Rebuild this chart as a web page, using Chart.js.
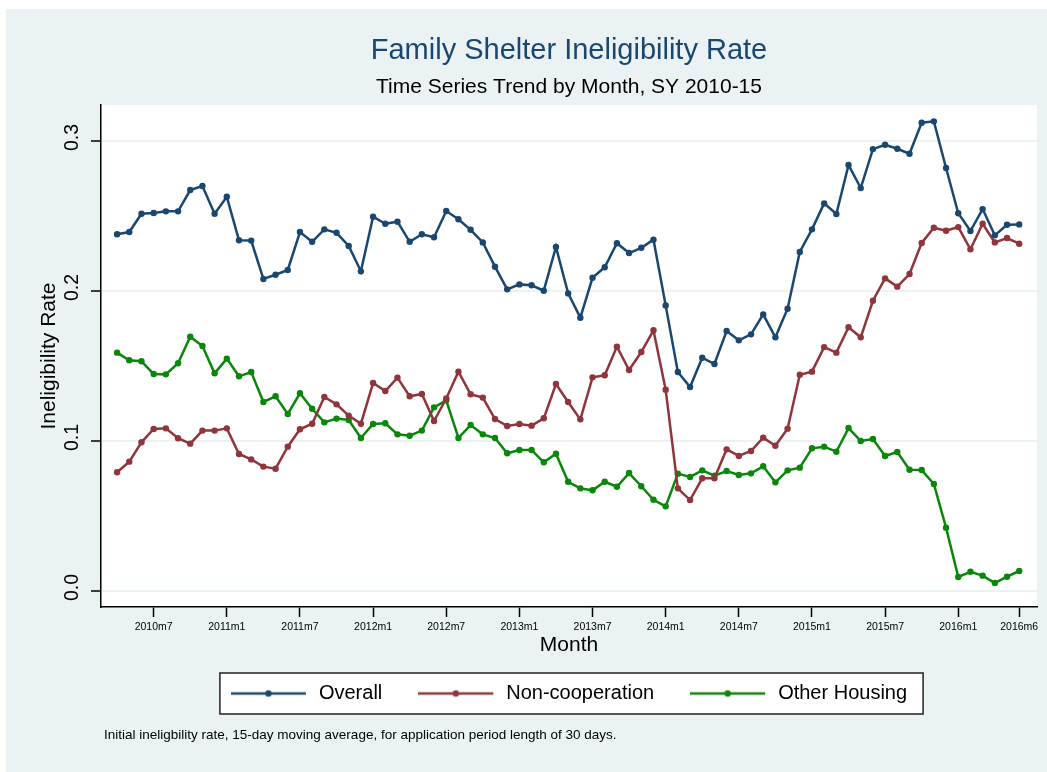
<!DOCTYPE html>
<html>
<head>
<meta charset="utf-8">
<script src="https://cdn.jsdelivr.net/npm/chart.js@4.4.1/dist/chart.umd.min.js"></script>
<style>
  html, body { margin: 0; padding: 0; background: #fff; }
  canvas { display: block; }
</style>
</head>
<body>
<canvas id="chart" width="1047" height="772"></canvas>
<script>
// months 2010m4 .. 2016m6 (75 monthly points)
const months = [];
for (let i = 0; i < 75; i++) {
  const m = 3 + i;
  months.push((2010 + Math.floor(m / 12)) + 'm' + (m % 12 + 1));
}

const overall = [0.2375, 0.239, 0.2512, 0.2517, 0.2528, 0.2528, 0.267, 0.2697, 0.2512, 0.2625,
  0.2335, 0.2333, 0.2077, 0.2105, 0.2137, 0.239, 0.2325, 0.2408, 0.2385, 0.2297,
  0.2128, 0.2492, 0.2445, 0.2459, 0.2325, 0.2375, 0.2355, 0.253, 0.2475, 0.2405,
  0.2321, 0.2159, 0.2008, 0.2041, 0.2035, 0.1999, 0.229, 0.1981, 0.1819, 0.2085,
  0.2155, 0.2315, 0.225, 0.2285, 0.2339, 0.1901, 0.1457, 0.1357, 0.1552, 0.151,
  0.173, 0.1668, 0.1708, 0.1841, 0.1688, 0.1879, 0.2257, 0.2408, 0.2581, 0.251,
  0.2837, 0.2683, 0.2943, 0.2972, 0.2945, 0.2912, 0.3119, 0.3128, 0.2817, 0.2515,
  0.2397, 0.2543, 0.2368, 0.2439, 0.2441];

const nonCooperation = [0.0788, 0.0859, 0.0988, 0.1077, 0.1081, 0.1015, 0.0979, 0.1066, 0.1066, 0.1081,
  0.091, 0.0874, 0.0826, 0.0812, 0.0959, 0.1075, 0.1112, 0.129, 0.1241, 0.1166,
  0.1112, 0.1383, 0.133, 0.1419, 0.1295, 0.131, 0.113, 0.128, 0.1459, 0.1308,
  0.1286, 0.1143, 0.1097, 0.111, 0.1099, 0.1148, 0.1377, 0.1257, 0.1141, 0.1421,
  0.1435, 0.1626, 0.147, 0.159, 0.1735, 0.1339, 0.0681, 0.0603, 0.0748, 0.0748,
  0.0941, 0.0897, 0.093, 0.1019, 0.0965, 0.1079, 0.1439, 0.1459, 0.1623, 0.1586,
  0.1755, 0.1688, 0.1932, 0.2081, 0.2026, 0.211, 0.2317, 0.2419, 0.2399, 0.2423,
  0.2275, 0.2445, 0.2321, 0.235, 0.2312];

const otherHousing = [0.1586, 0.1535, 0.1528, 0.1443, 0.1441, 0.1515, 0.1692, 0.163, 0.1448, 0.1546,
  0.1428, 0.1457, 0.1257, 0.1295, 0.1177, 0.1315, 0.1212, 0.1121, 0.1146, 0.1137,
  0.1017, 0.111, 0.1115, 0.1041, 0.1032, 0.1066, 0.1221, 0.1268, 0.1017, 0.1103,
  0.1041, 0.1017, 0.0915, 0.0937, 0.0937, 0.0855, 0.0912, 0.0725, 0.0681, 0.0668,
  0.0725, 0.0692, 0.0783, 0.0695, 0.0605, 0.0561, 0.0779, 0.0757, 0.0801, 0.0765,
  0.0797, 0.077, 0.0781, 0.0828, 0.0721, 0.0801, 0.0819, 0.0948, 0.0959, 0.0925,
  0.1083, 0.0997, 0.101, 0.0897, 0.0923, 0.0805, 0.0803, 0.071, 0.0419, 0.009,
  0.0125, 0.0099, 0.005, 0.0092, 0.013];

const xTickLabels = ['2010m7', '2011m1', '2011m7', '2012m1', '2012m7', '2013m1', '2013m7',
  '2014m1', '2014m7', '2015m1', '2015m7', '2016m1', '2016m6'];
const yTicks = [0, 0.1, 0.2, 0.3];

const seriesNames = ['Overall', 'Non-cooperation', 'Other Housing'];
const seriesColors = ['#1a476f', '#90353b', '#0a870a'];
const seriesData = [overall, nonCooperation, otherHousing];

const xTickPos = xTickLabels.map(l => months.indexOf(l));
const FONT = '"Liberation Sans", Arial, Helvetica, sans-serif';
const BG = '#eaf2f3';

Chart.defaults.font.family = FONT;
Chart.defaults.color = '#000';

// little "line with a dot" glyph for the legend, like Stata's keys
// (3px of empty space on the right widens the gap before the text)
function legendKey(color) {
  const c = document.createElement('canvas');
  c.width = 78; c.height = 10;
  const g = c.getContext('2d');
  g.strokeStyle = color; g.lineWidth = 2.5;
  g.beginPath(); g.moveTo(0, 5); g.lineTo(75, 5); g.stroke();
  g.fillStyle = color;
  g.beginPath(); g.arc(37.5, 5, 3.2, 0, Math.PI * 2); g.fill();
  return c;
}
const legendKeys = seriesColors.map(legendKey);

const stataFrame = {
  id: 'stataFrame',
  beforeDraw(chart) {
    const ctx = chart.ctx, a = chart.chartArea;
    ctx.save();
    ctx.fillStyle = BG;
    ctx.fillRect(6, 9, chart.width - 6, chart.height - 9);
    ctx.fillStyle = '#fff';
    ctx.fillRect(a.left, a.top, a.right - a.left, a.bottom - a.top);
    // legend frame
    const hb = chart.legend.legendHitBoxes;
    if (hb && hb.length) {
      const last = hb[hb.length - 1];
      const x0 = hb[0].left - 11, x1 = last.left + last.width + 16;
      const cy = hb[0].top + hb[0].height / 2;
      ctx.fillRect(x0, cy - 20.5, x1 - x0, 41);
      ctx.strokeStyle = '#222'; ctx.lineWidth = 1.5;
      ctx.strokeRect(x0, cy - 20.5, x1 - x0, 41);
    }
    ctx.restore();
  },
  afterDraw(chart) {
    const ctx = chart.ctx, a = chart.chartArea, ys = chart.scales.y;
    ctx.save();
    ctx.fillStyle = '#000';
    // rotated y tick labels
    ctx.font = '19.5px ' + FONT;
    ctx.textAlign = 'center';
    ctx.textBaseline = 'alphabetic';
    yTicks.forEach(v => {
      ctx.save();
      ctx.translate(78, ys.getPixelForValue(v) - 3);
      ctx.rotate(-Math.PI / 2);
      ctx.fillText(v.toFixed(1), 0, 0);
      ctx.restore();
    });
    // y axis title
    ctx.font = '21px ' + FONT;
    ctx.save();
    ctx.translate(55, (a.top + a.bottom) / 2);
    ctx.rotate(-Math.PI / 2);
    ctx.fillText('Ineligibility Rate', 0, 0);
    ctx.restore();
    // note
    ctx.font = '13.5px ' + FONT;
    ctx.textAlign = 'left';
    ctx.fillText('Initial ineligbility rate, 15-day moving average, for application period length of 30 days.', 104, 739);
    ctx.restore();
  }
};

new Chart(document.getElementById('chart'), {
  type: 'line',
  data: {
    datasets: seriesData.map((d, k) => ({
      label: seriesNames[k],
      data: d.map((v, i) => ({ x: i, y: v })),
      borderColor: seriesColors[k],
      backgroundColor: seriesColors[k],
      pointBackgroundColor: seriesColors[k],
      pointBorderWidth: 0,
      pointRadius: 3.2,
      borderWidth: 2.5,
      tension: 0,
      fill: false
    }))
  },
  options: {
    responsive: false,
    animation: false,
    devicePixelRatio: 1,
    layout: { padding: { left: 101, right: 10, top: 0, bottom: 58.5 } },
    scales: {
      x: {
        type: 'linear',
        min: -1.32,
        max: 75.46,
        afterBuildTicks: s => { s.ticks = xTickPos.map(v => ({ value: v })); },
        afterFit: s => { s.height = 40.5; },
        ticks: {
          autoSkip: false, maxRotation: 0, padding: 4,
          font: { size: 10.5 }, color: '#000',
          callback: v => xTickLabels[xTickPos.indexOf(v)]
        },
        grid: { drawOnChartArea: false, drawTicks: true, tickLength: 10, tickColor: '#000', tickWidth: 1.5 },
        border: { color: '#000', width: 1.5 },
        title: { display: true, text: 'Month', color: '#000', font: { size: 21, lineHeight: 0.2 }, padding: 0 }
      },
      y: {
        min: -0.011,
        max: 0.3237,
        afterBuildTicks: s => { s.ticks = yTicks.map(v => ({ value: v })); },
        afterFit: s => { s.width = 0; },
        ticks: { display: false },
        grid: { color: BG, lineWidth: 2, drawTicks: true, tickLength: 10, tickColor: '#000', tickWidth: 1.5 },
        border: { color: '#000', width: 1.5 }
      }
    },
    plugins: {
      title: {
        display: true,
        text: 'Family Shelter Ineligibility Rate',
        color: '#1a476f',
        font: { size: 29, weight: 'normal' },
        padding: { top: 33.2, bottom: 7.1 }
      },
      subtitle: {
        display: true,
        text: 'Time Series Trend by Month, SY 2010-15',
        color: '#000',
        font: { size: 21, weight: 'normal' },
        padding: { top: 0, bottom: 4.7 }
      },
      legend: {
        position: 'bottom',
        labels: {
          usePointStyle: true,
          pointStyleWidth: 78,
          boxHeight: 20,
          padding: 36,
          color: '#000',
          font: { size: 20 },
          generateLabels: chart => Chart.defaults.plugins.legend.labels.generateLabels(chart)
            .map((it, i) => Object.assign(it, { pointStyle: legendKeys[i] }))
        }
      },
      tooltip: { enabled: false }
    }
  },
  plugins: [stataFrame]
});
</script>
</body>
</html>
